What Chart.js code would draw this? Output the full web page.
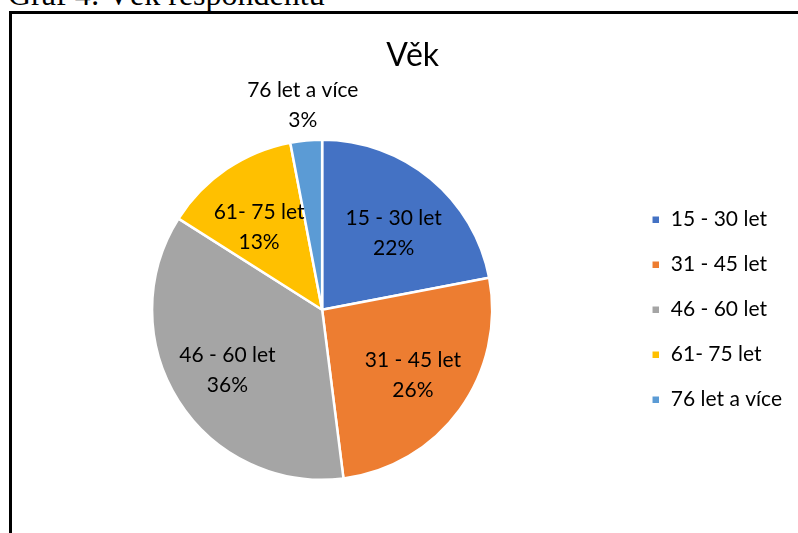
<!DOCTYPE html>
<html>
<head>
<meta charset="utf-8">
<script src="https://cdn.jsdelivr.net/npm/chart.js@4"></script>
<style>
  html, body { margin: 0; padding: 0; background: #fff; }
  body { width: 798px; height: 533px; overflow: hidden; position: relative; }
  #caption {
    position: absolute; left: 8px; top: -22px;
    font-family: "Liberation Serif", "DejaVu Serif", serif;
    font-size: 32px; line-height: 32px; color: #000; white-space: nowrap;
  }
  #frame {
    position: absolute; left: 9px; top: 11px;
    width: 900px; height: 600px;
    border: 3px solid #000; box-sizing: border-box;
  }
  #wrap { position: absolute; left: 12px; top: 14px; width: 798px; height: 519px; }
</style>
</head>
<body>
<div id="caption">Graf 4: Věk respondentů</div>
<div id="frame"></div>
<div id="wrap"><canvas id="vekChart" width="798" height="519"></canvas></div>
<script>
// =============================
// DATA
// =============================
const categories = ["15 - 30 let", "31 - 45 let", "46 - 60 let", "61- 75 let", "76 let a více"];
const shares = [22, 26, 36, 13, 3]; // procenta
const sliceColors = ["#4472C4", "#ED7D31", "#A5A5A5", "#FFC000", "#5B9BD5"];

const FONT = "Lato, 'Liberation Sans', sans-serif";

// popisky uvnitř / vně výsečí
const sliceLabels = {
  id: "sliceLabels",
  afterDatasetsDraw(chart) {
    const ctx = chart.ctx;
    const meta = chart.getDatasetMeta(0);
    ctx.save();
    ctx.font = "21px " + FONT;
    ctx.fillStyle = "#000";
    ctx.textAlign = "center";
    ctx.textBaseline = "middle";
    meta.data.forEach((arc, i) => {
      const p = arc.getProps(["x", "y", "startAngle", "endAngle", "outerRadius"], true);
      const mid = (p.startAngle + p.endAngle) / 2;
      const small = shares[i] < 5;
      const dist = small ? p.outerRadius * 1.21 : p.outerRadius * 0.66;
      const cx = p.x + Math.cos(mid) * dist;
      let cy = p.y + Math.sin(mid) * dist;
      if (!small && Math.sin(mid) < 0) cy += 10; // horní popisky trochu níž
      ctx.fillText(categories[i], cx, cy - 15);
      ctx.fillText(shares[i] + "%", cx, cy + 15);
    });
    ctx.restore();
  }
};

const ctx = document.getElementById("vekChart").getContext("2d");
new Chart(ctx, {
  type: "pie",
  data: {
    labels: categories,
    datasets: [{
      data: shares,
      backgroundColor: sliceColors,
      borderColor: "#fff",
      borderWidth: 2.5
    }]
  },
  options: {
    responsive: false,
    animation: false,
    layout: { padding: { left: 5, right: 18, top: 0, bottom: 52 } },
    plugins: {
      title: {
        display: true,
        text: "  Věk", // mezery posunou nadpis na střed celého rámu
        color: "#000",
        font: { family: FONT, size: 32, weight: "normal" },
        padding: { top: 22, bottom: 64 }
      },
      legend: {
        position: "right",
        fullSize: false,
        labels: {
          color: "#000",
          font: { family: FONT, size: 21 },
          boxWidth: 9,
          boxHeight: 9,
          padding: 24
        }
      },
      tooltip: { enabled: false }
    }
  },
  plugins: [sliceLabels]
});
</script>
</body>
</html>
